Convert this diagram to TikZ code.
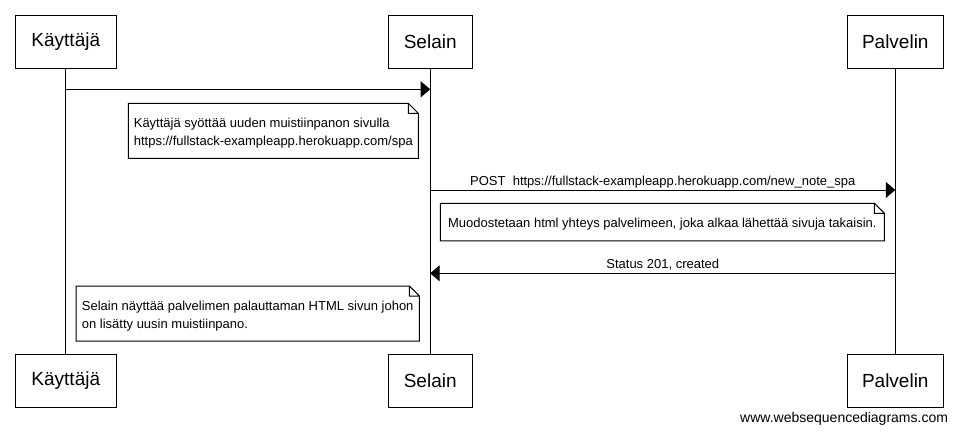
\documentclass[tikz,border=0pt]{standalone}
\usepackage{fontspec}
\setmainfont{Liberation Sans}
\usetikzlibrary{arrows.meta}
\newcommand\notestrut{\rule{0pt}{14.5pt}}
\begin{document}
\begin{tikzpicture}[x=1pt, y=-1pt, line width=1pt, >={Triangle[length=9.5pt,width=16pt]},
  actor/.style={draw, inner sep=0pt, minimum height=53pt, font=\fontsize{19}{23}\selectfont},
  note/.style={inner sep=2pt, outer sep=0pt, align=left, font=\fontsize{13}{18}\selectfont},
  msg/.style={anchor=base, inner sep=0pt, font=\fontsize{13}{16}\selectfont}]
\useasboundingbox (0,0) rectangle (958,432);
\def\ya{41.8}
\def\yb{380.8}
\foreach \n/\x/\w/\t in {usr/65.8/101/Käyttäjä, brw/430.2/84/Selain, srv/895.3/96/Palvelin}{
  \node[actor, minimum width=\w pt] (\n T) at (\x,\ya) {\t};
  \node[actor, minimum width=\w pt] (\n B) at (\x,\yb) {\t};
  \draw (\n T) -- (\n B);
}
\path (usrT |- 0,89.3) coordinate (m1a) (brwT |- 0,89.3) coordinate (m1b)
      (brwT |- 0,190) coordinate (m2a) (srvT |- 0,190) coordinate (m2b)
      (srvT |- 0,273.3) coordinate (m3a) (brwT |- 0,273.3) coordinate (m3b);
\draw[->] (m1a) -- (m1b);
\draw[->] (m2a) -- node[msg, yshift=4.5pt] {POST~~https://fullstack-exampleapp.herokuapp.com/new\_note\_spa} (m2b);
\draw[->] (m3a) -- node[msg, yshift=5pt] {Status 201, created} (m3b);
\node[note, minimum width=290pt, minimum height=55pt] (n1) at (273.3,130.8) {\notestrut Käyttäjä syöttää uuden muistiinpanon sivulla\\https://fullstack-exampleapp.herokuapp.com/spa};
\node[note, minimum width=444pt, minimum height=37.5pt] (n2) at (662.3,222) {\notestrut Muodostetaan html yhteys palvelimeen, joka alkaa lähettää sivuja takaisin.};
\node[note, minimum width=343.3pt, minimum height=55pt] (n3) at (247.7,313.5) {\notestrut Selain näyttää palvelimen palauttaman HTML sivun johon\\on lisätty uusin muistiinpano.};
\foreach \n in {n1,n2,n3}
  \draw (\n.north west) -- ([xshift=-10pt]\n.north east) coordinate (\n f) -- ([yshift=-10pt]\n.north east) -- (\n.south east) -- (\n.south west) -- cycle
    (\n f) |- ([yshift=-10pt]\n.north east);
\node[anchor=base east, inner sep=0pt, font=\fontsize{14}{16}\selectfont] (wsd) at (948.5,422) {www.websequencediagrams.com};
\end{tikzpicture}
\end{document}
